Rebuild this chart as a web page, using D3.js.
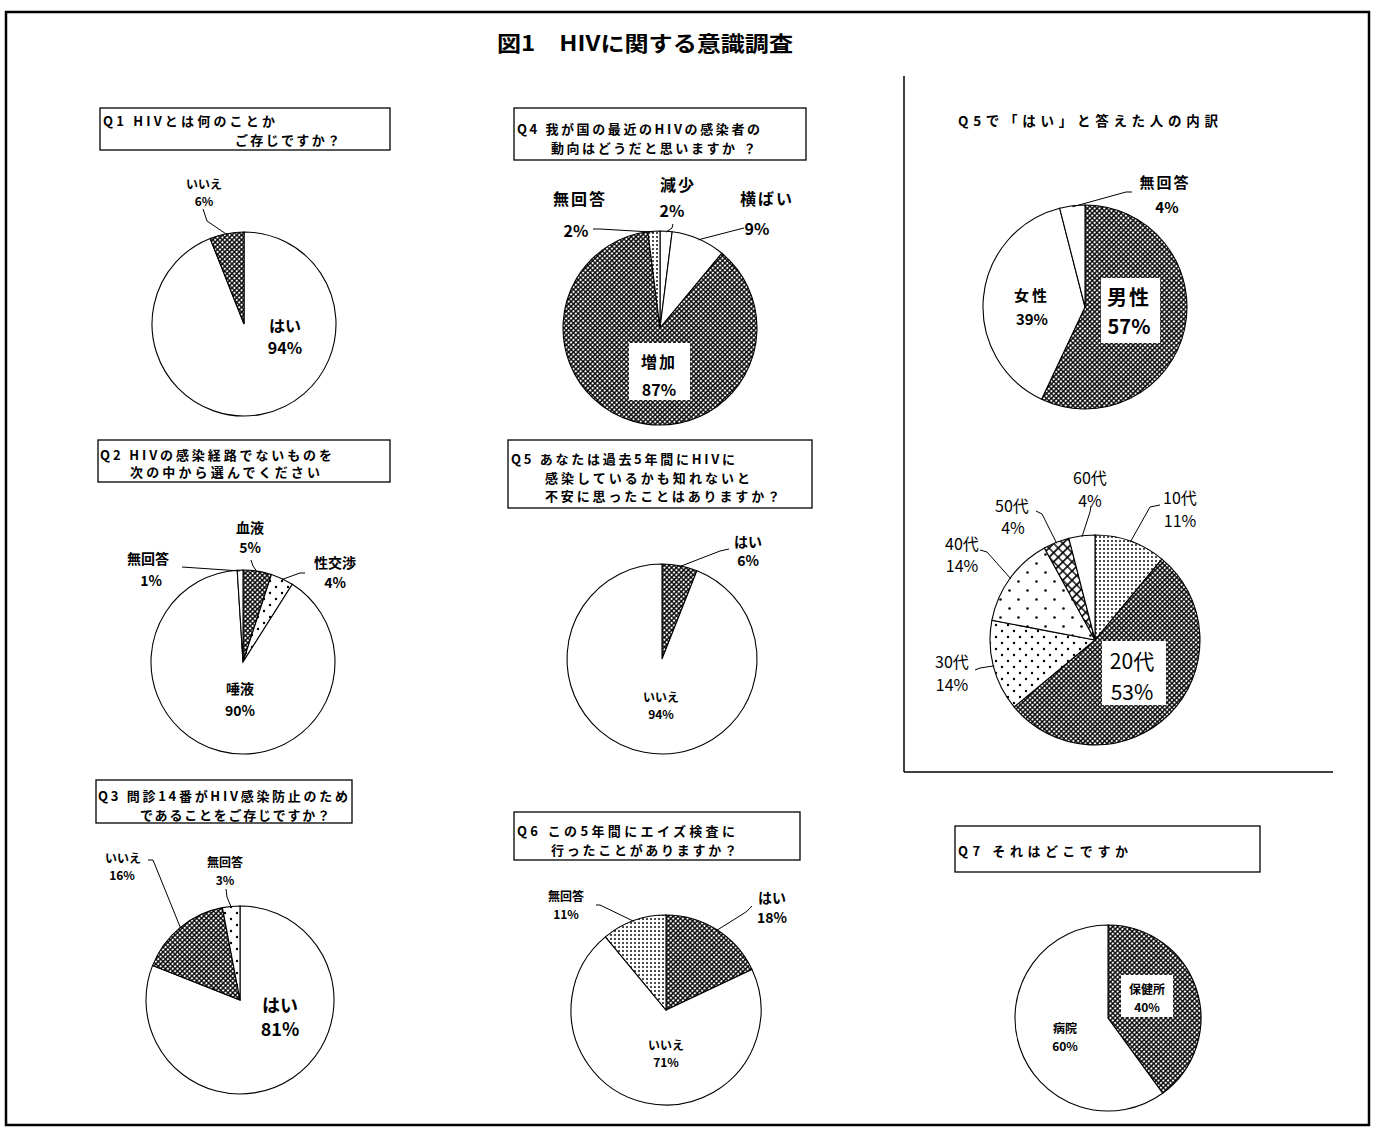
<!DOCTYPE html>
<html><head><meta charset="utf-8">
<script src="https://cdn.jsdelivr.net/npm/d3@7"></script>
<style>
body{margin:0;background:#fff}
text{font-family:"Noto Sans CJK JP","Noto Sans",sans-serif;fill:#000}
</style>
</head><body>
<svg id="c" width="1378" height="1130"></svg>
<script>
// ---------- DATA ----------
const q1Cats = ["はい", "いいえ"];
const q1Vals = [94, 6];
const q4Cats = ["減少", "横ばい", "増加", "無回答"];
const q4Vals = [2, 9, 87, 2];
const sexCats = ["男性", "女性", "無回答"];
const sexVals = [57, 39, 4];
const ageCats = ["10代", "20代", "30代", "40代", "50代", "60代"];
const ageVals = [11, 53, 14, 14, 4, 4];
const q2Cats = ["血液", "性交渉", "唾液", "無回答"];
const q2Vals = [5, 4, 90, 1];
const q5Cats = ["はい", "いいえ"];
const q5Vals = [6, 94];
const q3Cats = ["はい", "いいえ", "無回答"];
const q3Vals = [81, 16, 3];
const q6Cats = ["はい", "いいえ", "無回答"];
const q6Vals = [18, 71, 11];
const q7Cats = ["保健所", "病院"];
const q7Vals = [40, 60];

const titleText = "図1　HIVに関する意識調査";
const q1Text = ["Q1  HIVとは何のことか", "ご存じですか？"];
const q4Text = ["Q4 我が国の最近のHIVの感染者の", "動向はどうだと思いますか ？"];
const q2Text = ["Q2 HIVの感染経路でないものを", "次の中から選んでください"];
const q5Text = ["Q5  あなたは過去5年間にHIVに", "感染しているかも知れないと", "不安に思ったことはありますか？"];
const q3Text = ["Q3 問診14番がHIV感染防止のため", "であることをご存じですか？"];
const q6Text = ["Q6  この5年間にエイズ検査に", "行ったことがありますか？"];
const q7Text = ["Q7  それはどこですか"];
const breakdownTitle = "Q5で「はい」と答えた人の内訳";

// ---------- SETUP ----------
const svg = d3.select("#c");
const defs = svg.append("defs");

function hatch(id, size, sw) {
  const p = defs.append("pattern").attr("id", id).attr("patternUnits", "userSpaceOnUse")
    .attr("width", size).attr("height", size).attr("patternTransform", "rotate(45)");
  p.append("rect").attr("width", size).attr("height", size).attr("fill", "#fff");
  p.append("path").attr("d", `M0,0H${size}M0,${size}H${size}M0,0V${size}M${size},0V${size}`)
    .attr("stroke", "#000").attr("stroke-width", sw);
}
function dots(id, size, r, stagger) {
  const p = defs.append("pattern").attr("id", id).attr("patternUnits", "userSpaceOnUse")
    .attr("width", size).attr("height", size);
  p.append("rect").attr("width", size).attr("height", size).attr("fill", "#fff");
  p.append("circle").attr("cx", size / 4).attr("cy", size / 4).attr("r", r).attr("fill", "#000");
  if (stagger) p.append("circle").attr("cx", size * 3 / 4).attr("cy", size * 3 / 4).attr("r", r).attr("fill", "#000");
}
hatch("dark", 3.4, 1.4);
hatch("bigx", 6.5, 1.6);
dots("dense", 4, 0.95, false);
dots("medium", 12, 1.2, true);
dots("sparse", 18, 1.3, true);

const F = {dark: "url(#dark)", white: "#fff", dense: "url(#dense)", medium: "url(#medium)",
  sparse: "url(#sparse)", bigx: "url(#bigx)"};

// frame
svg.append("rect").attr("x", 6).attr("y", 12).attr("width", 1363).attr("height", 1113)
  .attr("fill", "none").attr("stroke", "#000").attr("stroke-width", 2.5);
// right panel lines
svg.append("line").attr("x1", 904).attr("y1", 76).attr("x2", 904).attr("y2", 772).attr("stroke", "#000").attr("stroke-width", 1.5);
svg.append("line").attr("x1", 904).attr("y1", 772).attr("x2", 1333).attr("y2", 772).attr("stroke", "#000").attr("stroke-width", 1.5);

svg.append("text").attr("x", 497).attr("y", 42).attr("dominant-baseline", "central")
  .attr("font-size", 21).attr("font-weight", "bold").attr("textLength", 296).attr("lengthAdjust", "spacingAndGlyphs")
  .text(titleText);

svg.append("text").attr("x", 958).attr("y", 120).attr("dominant-baseline", "central")
  .attr("font-size", 13.5).attr("font-weight", "bold").attr("textLength", 260).attr("lengthAdjust", "spacing")
  .text(breakdownTitle);

function qbox(box, lines) {
  svg.append("rect").attr("x", box.x).attr("y", box.y).attr("width", box.w).attr("height", box.h)
    .attr("fill", "#fff").attr("stroke", "#000").attr("stroke-width", 1.3);
  lines.forEach((t, i) => {
    const L = box.lines[i];
    svg.append("text").attr("x", L[0]).attr("y", L[1]).attr("dominant-baseline", "central")
      .attr("font-size", 13).attr("font-weight", "bold")
      .attr("textLength", L[2]).attr("lengthAdjust", "spacing").text(t);
  });
}
qbox({x: 100, y: 108, w: 290, h: 42, lines: [[103, 120, 172], [235, 139, 105]]}, q1Text);
qbox({x: 514, y: 108, w: 292, h: 52, lines: [[517, 128, 243], [551, 147, 205]]}, q4Text);
qbox({x: 98, y: 440, w: 292, h: 42, lines: [[100, 454, 232], [130, 471, 190]]}, q2Text);
qbox({x: 508, y: 440, w: 304, h: 68, lines: [[511, 458, 224], [545, 477, 205], [545, 495, 235]]}, q5Text);
qbox({x: 96, y: 780, w: 256, h: 43, lines: [[98, 795, 250], [140, 814, 190]]}, q3Text);
qbox({x: 514, y: 812, w: 286, h: 48, lines: [[517, 830, 218], [551, 849, 186]]}, q6Text);
qbox({x: 955, y: 826, w: 305, h: 46, lines: [[958, 850, 170]]}, q7Text);

// ---------- PIE DRAWING ----------
function drawPie(cfg) {
  const data = cfg.cats.map((c, i) => ({cat: c, val: cfg.vals[i]}));
  const arcs = d3.pie().sort(null).value(d => d.val).startAngle(0).endAngle(2 * Math.PI)(data);
  const arc = d3.arc().innerRadius(0).outerRadius(cfg.r);
  const g = svg.append("g").attr("transform", `translate(${cfg.cx},${cfg.cy})`);
  g.selectAll("path").data(arcs).join("path").attr("d", arc)
    .attr("fill", (d, i) => F[cfg.fills[i]]).attr("stroke", "#000").attr("stroke-width", 1.1);
  arcs.forEach((a, i) => {
    const L = cfg.layout[i];
    const mid = (a.startAngle + a.endAngle) / 2;
    if (L.leader) {
      const ex = cfg.cx + Math.sin(mid) * cfg.r * 0.99, ey = cfg.cy - Math.cos(mid) * cfg.r * 0.99;
      const pts = L.leader.concat([[ex, ey]]);
      svg.append("path").attr("d", d3.line()(pts)).attr("fill", "none").attr("stroke", "#000").attr("stroke-width", 1);
    }
    const fs = L.fs || 13, fw = L.fw || "bold";
    if (L.box) {
      svg.append("rect").attr("x", L.box[0]).attr("y", L.box[1]).attr("width", L.box[2]).attr("height", L.box[3]).attr("fill", "#fff");
    }
    const name = a.data.cat, pct = a.data.val + "%";
    const np = L.n, vp = L.v;
    svg.append("text").attr("x", np[0]).attr("y", np[1]).attr("text-anchor", "middle").attr("dominant-baseline", "central")
      .attr("font-size", fs).attr("font-weight", fw).attr("letter-spacing", L.ls || 0).text(name);
    svg.append("text").attr("x", vp[0]).attr("y", vp[1]).attr("text-anchor", "middle").attr("dominant-baseline", "central")
      .attr("font-size", fs).attr("font-weight", fw).text(pct);
  });
}

drawPie({cats: q1Cats, vals: q1Vals, cx: 244, cy: 324, r: 92, fills: ["white", "dark"], layout: [
  {n: [285, 325], v: [285, 347], fs: 16},
  {n: [204, 183], v: [204, 200], fs: 12, leader: [[203, 209], [207, 221]]}
]});

drawPie({cats: q4Cats, vals: q4Vals, cx: 660, cy: 328, r: 97, fills: ["white", "white", "dark", "dense"], layout: [
  {n: [678, 184], v: [672, 210], fs: 16, ls: 2, leader: [[673, 224], [672, 228]]},
  {n: [767, 198], v: [757, 228], fs: 16, ls: 2, leader: [[744, 228], [736, 230]]},
  {n: [659, 361], v: [659, 389], fs: 16, ls: 2, box: [629, 343, 61, 57]},
  {n: [580, 198], v: [576, 230], fs: 16, ls: 2, leader: [[593, 229], [600, 229]]}
]});

drawPie({cats: sexCats, vals: sexVals, cx: 1085, cy: 307, r: 102, fills: ["dark", "white", "white"], layout: [
  {n: [1129, 296], v: [1129, 325], fs: 20, ls: 2, box: [1101, 278, 59, 65]},
  {n: [1032, 294], v: [1032, 318], fs: 15, ls: 3},
  {n: [1165, 181], v: [1167, 206], fs: 15, ls: 2, leader: [[1132, 192], [1126, 192]]}
]});

drawPie({cats: ageCats, vals: ageVals, cx: 1095, cy: 640, r: 105, fills: ["dense", "dark", "medium", "sparse", "bigx", "white"], layout: [
  {n: [1180, 497], v: [1180, 520], fs: 16, fw: "normal", leader: [[1160, 505], [1150, 507]]},
  {n: [1132, 660], v: [1132, 691], fs: 21, fw: "normal", box: [1102, 641, 64, 64]},
  {n: [952, 661], v: [952, 684], fs: 16, fw: "normal", leader: [[975, 670], [980, 668]]},
  {n: [962, 543], v: [962, 565], fs: 16, fw: "normal", leader: [[980, 550], [987, 552]]},
  {n: [1012, 505], v: [1013, 527], fs: 16, fw: "normal", leader: [[1036, 511], [1042, 514]]},
  {n: [1090, 477], v: [1090, 500], fs: 16, fw: "normal", leader: [[1091, 506], [1090, 512]]}
]});

drawPie({cats: q2Cats, vals: q2Vals, cx: 243, cy: 662, r: 92, fills: ["dark", "medium", "white", "white"], layout: [
  {n: [250, 527], v: [250, 547], fs: 14, leader: [[251, 560], [253, 566]]},
  {n: [335, 562], v: [335, 582], fs: 14, leader: [[305, 573], [300, 573]]},
  {n: [240, 688], v: [240, 710], fs: 14},
  {n: [148, 558], v: [151, 580], fs: 14, leader: [[182, 567]]}
]});

drawPie({cats: q5Cats, vals: q5Vals, cx: 662, cy: 659, r: 95, fills: ["dark", "white"], layout: [
  {n: [748, 541], v: [748, 560], fs: 14, leader: [[729, 549], [720, 551]]},
  {n: [661, 696], v: [661, 713], fs: 12}
]});

drawPie({cats: q3Cats, vals: q3Vals, cx: 240, cy: 1000, r: 94, fills: ["white", "dark", "medium"], layout: [
  {n: [280, 1004], v: [280, 1028], fs: 18},
  {n: [123, 857], v: [122, 874], fs: 12, leader: [[148, 860], [153, 860]]},
  {n: [225, 861], v: [225, 879], fs: 12, leader: [[226, 889], [227, 897]]}
]});

drawPie({cats: q6Cats, vals: q6Vals, cx: 666, cy: 1010, r: 95, fills: ["dark", "white", "dense"], layout: [
  {n: [772, 897], v: [772, 917], fs: 14, leader: [[752, 906], [746, 912]]},
  {n: [666, 1044], v: [666, 1061], fs: 12},
  {n: [566, 895], v: [566, 913], fs: 12, leader: [[596, 905], [600, 905]]}
]});

drawPie({cats: q7Cats, vals: q7Vals, cx: 1108, cy: 1018, r: 93, fills: ["dark", "white"], layout: [
  {n: [1147, 988], v: [1147, 1006], fs: 12, box: [1121, 975, 52, 42]},
  {n: [1065, 1027], v: [1065, 1045], fs: 12}
]});
</script>
</body></html>
